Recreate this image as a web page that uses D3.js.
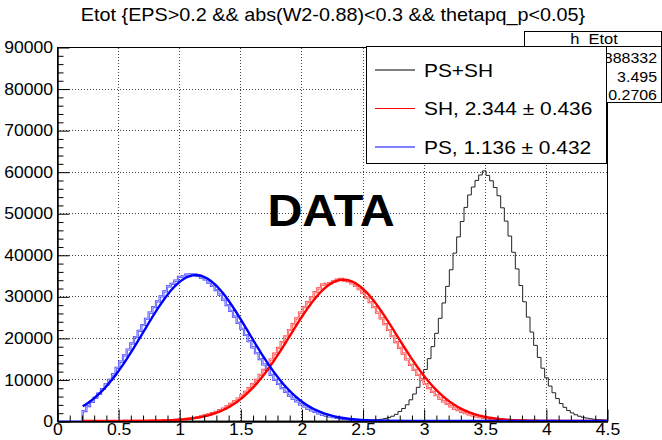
<!DOCTYPE html>
<html>
<head>
<meta charset="utf-8">
<script src="https://cdn.jsdelivr.net/npm/d3@7"></script>
<style>
  body { margin: 0; background: #fff; }
  text { font-family: "Liberation Sans", Arial, Helvetica, sans-serif; }
</style>
</head>
<body>
<div id="chart"></div>
<script>
const width = 662, height = 440;
const stretch = 1.1; // ROOT canvas text looks a bit wide

// binning of the histograms (150 bins on 0..4.5)
const nBins = 150, xMin = 0, xMax = 4.5;

// bin contents, in thousands of entries, starting at bin index *Start
const psshStart = 74;
const psshK = [0.005, 0.01, 0.01, 0.015, 0.02, 0.03, 0.04, 0.05, 0.07, 0.09, 0.12, 0.16, 0.22, 0.3, 0.42, 0.58,
  0.82, 1.15, 1.6, 2.3, 3.0, 3.9, 5.1, 6.5, 8.1, 10.1, 12.4, 15.0, 17.9, 21.1, 24.7, 28.4, 32.4, 36.4, 40.4,
  44.3, 48.0, 51.4, 54.4, 56.3, 57.9, 59.2, 60.2, 59.1, 57.8, 56.2, 54.2, 51.3, 48.1, 44.5, 40.6, 36.6, 32.6,
  28.7, 25.0, 21.4, 18.2, 15.3, 12.7, 10.4, 8.4, 6.8, 5.4, 4.2, 3.3, 2.5, 1.95, 1.5, 1.15, 0.9, 0.7, 0.55,
  0.42, 0.33, 0.27, 0.22];

const shStart = 18;
const shK = [0.01, 0.01, 0.015, 0.02, 0.025, 0.03, 0.04, 0.05, 0.07, 0.09, 0.11, 0.14, 0.18, 0.22, 0.28, 0.34,
  0.42, 0.51, 0.63, 0.76, 0.92, 1.11, 1.33, 1.59, 1.88, 2.2, 2.6, 3.0, 3.5, 4.1, 4.7, 5.4, 6.2, 7.0, 7.9, 8.9,
  9.9, 11.1, 12.3, 13.5, 14.8, 16.2, 17.6, 19.0, 20.4, 21.9, 23.3, 24.7, 26.1, 27.4, 28.6, 29.8, 31.0, 31.9,
  32.8, 33.0, 33.2, 33.6, 34.0, 34.2, 33.8, 33.6, 33.1, 32.5, 31.7, 30.8, 29.7, 28.6, 27.4, 26.1, 24.7, 23.3,
  21.9, 20.4, 19.0, 17.6, 16.2, 14.8, 13.5, 12.3, 11.1, 9.9, 8.9, 7.9, 7.0, 6.2, 5.4, 4.7, 4.1, 3.5, 3.0, 2.6,
  2.2, 1.88, 1.59, 1.33, 1.11, 0.92, 0.76, 0.63, 0.51, 0.42, 0.34, 0.28, 0.22, 0.18, 0.14, 0.11, 0.09, 0.07,
  0.05, 0.04, 0.03, 0.025, 0.02, 0.015, 0.01, 0.01];

const psStart = 7;
const psK = [2.4, 3.6, 4.6, 5.6, 6.6, 7.7, 8.8, 9.9, 11.2, 12.8, 14.3, 15.8, 17.2, 18.7, 20.2, 21.7, 23.1, 24.6,
  26.1, 27.4, 28.8, 30.0, 31.2, 32.4, 33.0, 33.8, 34.7, 34.8, 35.2, 35.3, 35.3, 35.0, 34.5, 34.1, 33.3, 32.5,
  31.5, 30.4, 29.2, 27.9, 26.5, 25.1, 23.6, 22.2, 20.7, 19.2, 17.7, 16.3, 14.9, 13.6, 12.3, 11.1, 9.9, 8.9,
  7.9, 7.0, 6.1, 5.4, 4.7, 4.0, 3.5, 3.0, 2.56, 2.18, 1.84, 1.55, 1.3, 1.08, 0.9, 0.74, 0.61, 0.5, 0.41, 0.33,
  0.26, 0.21, 0.17, 0.13, 0.1, 0.08, 0.06, 0.05, 0.04, 0.03, 0.02, 0.02, 0.01];

// gaussian fits: constant, mean, sigma, and the fit range
const shFit = [34000, 2.344, 0.436];
const psFit = [35100, 1.136, 0.432];
const fitRange = [0.21, 4.5];

// stat box of h_Etot
const statValues = ["888332", "3.495", "0.2706"];
const legendLabels = ["PS+SH", "SH, 2.344 \u00b1 0.436", "PS, 1.136 \u00b1 0.432"];

const xMajor = [0, 0.5, 1, 1.5, 2, 2.5, 3, 3.5, 4, 4.5];
const yMajor = [0, 10000, 20000, 30000, 40000, 50000, 60000, 70000, 80000, 90000];

const svg = d3.select("#chart").append("svg")
  .attr("width", width)
  .attr("height", height);

svg.append("rect").attr("width", width).attr("height", height).attr("fill", "#fff");

const x = d3.scaleLinear().domain([xMin, xMax]).range([57, 607]);
const y = d3.scaleLinear().domain([0, 90000]).range([421, 47]);

svg.append("defs").append("clipPath").attr("id", "frame")
  .append("rect")
  .attr("x", x(xMin)).attr("y", y(90000))
  .attr("width", x(xMax) - x(xMin)).attr("height", y(0) - y(90000));

// text placed at (px, py), stretched horizontally
function addText(parent, px, py, size, anchor, str) {
  return parent.append("text")
    .attr("transform", `translate(${px},${py}) scale(${stretch},1)`)
    .attr("text-anchor", anchor)
    .attr("font-size", size)
    .text(str);
}

// dotted grid
const grid = svg.append("g").attr("stroke", "#444").attr("stroke-width", 1).attr("stroke-dasharray", "1,2");
grid.selectAll(".gx").data(xMajor.slice(1, -1)).enter().append("line")
  .attr("x1", d => Math.round(x(d)) + 0.5).attr("x2", d => Math.round(x(d)) + 0.5)
  .attr("y1", y(0)).attr("y2", y(90000));
grid.selectAll(".gy").data(yMajor.slice(1, -1)).enter().append("line")
  .attr("y1", d => Math.round(y(d)) + 0.5).attr("y2", d => Math.round(y(d)) + 0.5)
  .attr("x1", x(xMin)).attr("x2", x(xMax));

function binPoints(start, valsK) {
  const bw = (xMax - xMin) / nBins;
  const pts = [];
  for (let i = 0; i < nBins; i++) {
    const j = i - start;
    const v = (j >= 0 && j < valsK.length) ? valsK[j] * 1000 : 0;
    pts.push([xMin + i * bw, v]);
  }
  pts.push([xMax, pts[pts.length - 1][1]]);
  return pts;
}

const stepLine = d3.line()
  .x(d => x(d[0]))
  .y(d => y(d[1]))
  .curve(d3.curveStepAfter);

const plot = svg.append("g").attr("clip-path", "url(#frame)");

// PS+SH histogram (single line)
plot.append("path")
  .attr("d", stepLine(binPoints(psshStart, psshK)))
  .attr("fill", "none").attr("stroke", "#222").attr("stroke-width", 1);

// SH and PS histograms, drawn as a double outline
[[shStart, shK, "#ff3a3a"], [psStart, psK, "#3a3aff"]].forEach(([start, vals, col]) => {
  const d = stepLine(binPoints(start, vals));
  plot.append("path").attr("d", d).attr("fill", "none").attr("stroke", col).attr("stroke-width", 2.2);
  plot.append("path").attr("d", d).attr("fill", "none").attr("stroke", "#fff")
    .attr("stroke-width", 0.9).attr("stroke-opacity", 0.7);
});

// gaussian fit curves
function fitPoints(p) {
  const n = 300, pts = [];
  for (let i = 0; i <= n; i++) {
    const xv = fitRange[0] + (fitRange[1] - fitRange[0]) * i / n;
    pts.push([xv, p[0] * Math.exp(-0.5 * Math.pow((xv - p[1]) / p[2], 2))]);
  }
  return pts;
}
const smooth = d3.line().x(d => x(d[0])).y(d => y(d[1]));
plot.append("path").attr("d", smooth(fitPoints(shFit)))
  .attr("fill", "none").attr("stroke", "#ff0000").attr("stroke-width", 2.4);
plot.append("path").attr("d", smooth(fitPoints(psFit)))
  .attr("fill", "none").attr("stroke", "#0000ff").attr("stroke-width", 2.4);

// frame
svg.append("rect")
  .attr("x", x(xMin) + 0.5).attr("y", y(90000) + 0.5)
  .attr("width", x(xMax) - x(xMin)).attr("height", y(0) - y(90000))
  .attr("fill", "none").attr("stroke", "#000").attr("stroke-width", 1);

// axes, ticks pointing inward like ROOT
const xMinor = d3.range(0, 46).map(i => i / 10).filter(v => Math.round(v * 10) % 5 !== 0);
const yMinor = d3.range(0, 46).map(i => i * 2000).filter(v => v % 10000 !== 0);

const xAxis = svg.append("g").attr("transform", `translate(0.5,${y(0) + 0.5})`);
xAxis.call(d3.axisBottom(x).tickValues(xMajor).tickSize(-12).tickSizeOuter(0).tickPadding(2.5)
  .tickFormat(d3.format("")));
xAxis.append("g").call(d3.axisBottom(x).tickValues(xMinor).tickSize(-6).tickSizeOuter(0).tickFormat(""));

const yAxis = svg.append("g").attr("transform", `translate(${x(0) + 0.5},0.5)`);
yAxis.call(d3.axisLeft(y).tickValues(yMajor).tickSize(-12).tickSizeOuter(0).tickPadding(4)
  .tickFormat(d3.format("d")));
yAxis.append("g").call(d3.axisLeft(y).tickValues(yMinor).tickSize(-6).tickSizeOuter(0).tickFormat(""));

svg.selectAll(".tick text").attr("font-size", 16).attr("fill", "#000")
  .attr("font-family", "'Liberation Sans', Arial, sans-serif")
  .attr("transform", `scale(${stretch},1)`);
svg.selectAll(".domain").attr("stroke", "#000");
svg.selectAll(".tick line").attr("stroke", "#000");

// title
addText(svg, 333, 21, 18, "middle", "Etot {EPS>0.2 && abs(W2-0.88)<0.3 && thetapq_p<0.05}");

// stat box
svg.append("rect").attr("x", 524.5).attr("y", 31.5).attr("width", 137).attr("height", 15)
  .attr("fill", "#fff").attr("stroke", "#000");
svg.append("rect").attr("x", 524.5).attr("y", 46.5).attr("width", 137).attr("height", 56)
  .attr("fill", "#fff").attr("stroke", "#000");
addText(svg, 594, 44, 15, "middle", "h  Etot").attr("xml:space", "preserve");
statValues.forEach((v, i) => addText(svg, 657, 63 + i * 18.5, 14.5, "end", v));

// legend
const legend = svg.append("g");
legend.append("rect").attr("x", 366.5).attr("y", 46.5).attr("width", 240).attr("height", 117)
  .attr("fill", "#fff").attr("stroke", "#000");
const legendColors = ["#000", "#ff0000", "#0000ff"];
legendLabels.forEach((lab, i) => {
  const ly = 70 + i * 38.5;
  legend.append("line").attr("x1", 375).attr("x2", 415).attr("y1", ly).attr("y2", ly)
    .attr("stroke", legendColors[i]).attr("stroke-width", 1);
  addText(legend, 424, ly + 6.5, 19, "start", lab);
});

// DATA label
addText(svg, 331, 226, 44, "middle", "DATA").attr("font-weight", "bold");
</script>
</body>
</html>
